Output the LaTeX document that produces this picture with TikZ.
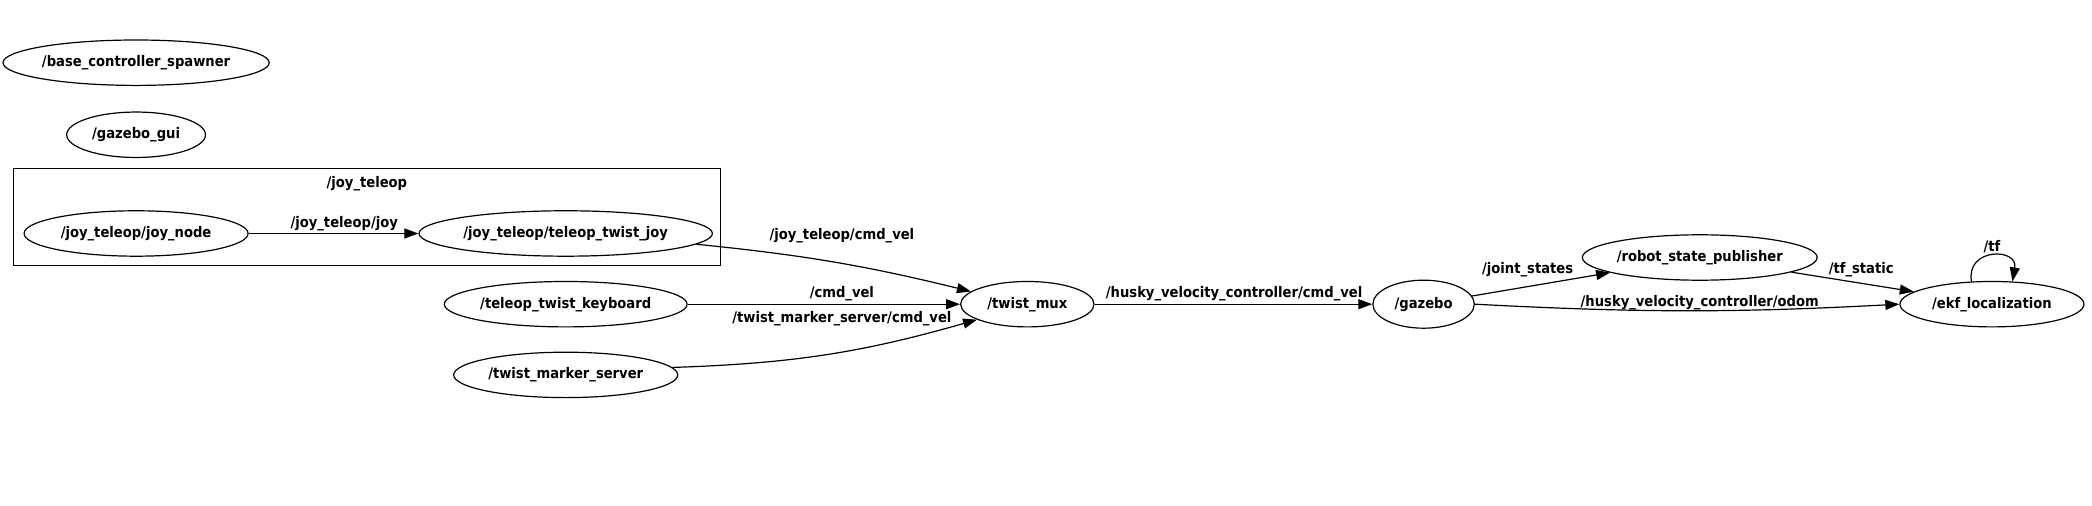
\documentclass[tikz,border=0pt]{standalone}
\usepackage{fontspec}
\setmainfont{DejaVu Sans Condensed}
\usetikzlibrary{shapes.geometric,arrows.meta}
\tikzset{
  nd/.style={ellipse, draw, line width=0.6pt, inner sep=0pt, minimum height=22.7pt, minimum width=#1},
  arr/.style={draw, line width=0.6pt, -{Triangle[length=7pt,width=5pt]}},
  lbl/.style={inner sep=0pt},
  every node/.append style={font=\fontsize{7.3}{8}\selectfont\bfseries}
}
\begin{document}
\begin{tikzpicture}[x=0.667pt,y=-0.667pt]
\useasboundingbox (0,0) rectangle (1568,379);
% cluster
\draw[line width=0.6pt] (10,126) rectangle (540,199);
\node[lbl] (cl) at (275,138) {/joy\_teleop};
% nodes
\node[nd=130.7pt] (bcs) at (102,47) {/base\_controller\_spawner};
\node[nd=69.4pt] (gg) at (102,101) {/gazebo\_gui};
\node[nd=112pt] (jn) at (102,175) {/joy\_teleop/joy\_node};
\node[nd=146.7pt] (tj) at (424,175) {/joy\_teleop/teleop\_twist\_joy};
\node[nd=121.4pt] (tk) at (424,228) {/teleop\_twist\_keyboard};
\node[nd=112pt] (tm) at (424,281) {/twist\_marker\_server};
\node[nd=66.7pt] (mux) at (770,228) {/twist\_mux};
\node[nd=50.7pt, minimum height=24pt] (gz) at (1067,228) {/gazebo};
\node[nd=116pt] (rsp) at (1274,193) {/robot\_state\_publisher};
\node[nd=92pt] (ekf) at (1493,228) {/ekf\_localization};
% edges
\draw[arr] (jn) -- (tj);
\node[lbl] (l1) at (258,168) {/joy\_teleop/joy};
\draw[arr] (tj) to[bend left=4] (mux);
\node[lbl] (l2) at (631,177) {/joy\_teleop/cmd\_vel};
\draw[arr] (tk) -- (mux);
\node[lbl] (l3) at (631,220) {/cmd\_vel};
\draw[arr] (tm.4) to[bend right=7] (mux);
\node[lbl] (l4) at (631,239) {/twist\_marker\_server/cmd\_vel};
\draw[arr] (mux) -- (gz);
\node[lbl] (l5) at (925,220) {/husky\_velocity\_controller/cmd\_vel};
\draw[arr] (gz) -- (rsp);
\node[lbl] (l6) at (1145,202) {/joint\_states};
\draw[arr] (gz.east) to[bend right=3] (ekf.west);
\node[lbl] (l7) at (1274,227) {/husky\_velocity\_controller/odom};
\draw[arr] (rsp) -- (ekf);
\node[lbl] (l8) at (1395,202) {/tf\_static};
\draw[arr] (ekf.132) .. controls +(-3pt,17pt) and +(3pt,17pt) .. (ekf.48);
\node[lbl] (l9) at (1493,185) {/tf};
\end{tikzpicture}
\end{document}
